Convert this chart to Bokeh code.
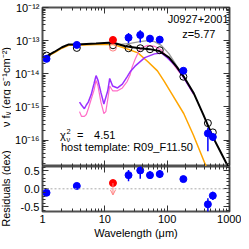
from math import pi
from bokeh.plotting import figure
from bokeh.models import (Range1d, LogAxis, LinearAxis, FixedTicker, CustomJSTickFormatter,
                          Label, Span, Arrow, OpenHead)
from bokeh.layouts import row, column
from bokeh.embed import file_html
from bokeh.resources import INLINE

FONT = "Liberation Sans"

# ---------------- data ----------------
# detected photometry (wavelength in micron, log10 of nu*F_nu in erg/s/cm2)
phot_wl = [1.16, 3.55, 24.0, 37.0, 53.0, 76.0, 182.0, 450.0, 540.0]
phot_logf = [-13.55, -13.13, -12.91, -12.83, -12.94, -12.97, -13.91, -15.80, -15.91]
phot_err_up = [0.0, 0.0, 0.14, 0.14, 0.11, 0.11, 0.0, 0.17, 0.11]
phot_err_dn = [0.0, 0.0, 0.17, 0.23, 0.11, 0.11, 0.0, 0.54, 0.12]
phot_resid = [-0.11, 0.08, 0.38, 0.51, 0.38, 0.41, 0.27, -0.43, -0.19]
model_logf = [-13.45, -13.22, -13.23, -13.23, -13.26, -13.29, -14.09, -15.49, -15.77]

# upper limit point
lim_wl = [13.5]
lim_logf = [-12.98]
lim_model_logf = [-13.14]
lim_host_logf = [-13.21]
lim_resid = [0.16]
lim_arrow_len = 0.33

# total model (black)
total_wl = [1.0, 1.197, 1.540, 2.054, 2.642, 3.523, 7.233, 13.34, 21.29, 36.52, 52.33,
            74.99, 107.5, 143.3, 184.3, 264.2, 378.5, 542.5, 723.4, 1000.0]
total_logf = [-13.514, -13.457, -13.343, -13.200, -13.114, -13.114, -13.086, -13.057,
              -13.171, -13.229, -13.257, -13.314, -13.514, -13.800, -14.086, -14.571,
              -15.229, -15.914, -16.371, -16.886]

# alternative total (grey)
grey_wl = [10.37, 17.78, 25.48, 36.52, 48.70, 62.66, 80.58, 107.5, 143.3, 184.3]
grey_logf = [-13.086, -13.114, -13.086, -13.029, -13.000, -13.029, -13.143, -13.400,
             -13.771, -14.086]

# AGN component (orange)
agn_wl = [1.0, 1.540, 2.054, 2.642, 3.523, 7.233, 13.34, 21.29, 33.98, 48.70, 69.8,
          89.8, 115.5, 184.3, 264.2, 421.7]
agn_logf = [-13.543, -13.371, -13.229, -13.143, -13.143, -13.114, -13.114, -13.229,
            -13.371, -13.629, -13.914, -14.229, -14.571, -15.200, -15.857, -16.800]

# host template (pink)
host_wl = [3.925, 4.217, 4.698, 5.048, 5.425, 6.043, 6.732, 7.233, 7.773, 8.660, 9.647,
           10.37, 11.14, 11.97, 13.34, 15.97, 19.11, 22.88, 25.48, 27.38, 30.50, 35.24,
           40.68, 48.70, 62.66, 80.58, 100.0, 128.7, 159.6, 184.3, 264.2]
host_logf = [-15.143, -15.286, -15.286, -15.229, -15.057, -14.771, -14.486, -14.200,
             -14.371, -14.857, -15.200, -15.143, -14.771, -14.371, -14.514, -14.514,
             -14.429, -14.229, -14.029, -13.800, -13.571, -13.314, -13.200, -13.143,
             -13.171, -13.286, -13.486, -13.743, -13.971, -14.114, -14.620]

# second host template (purple)
purp_wl = [3.925, 4.217, 4.698, 5.048, 5.425, 6.043, 6.732, 7.233, 7.773, 8.660, 9.647,
           10.37, 11.14, 11.97, 13.34, 15.97, 19.11, 22.88, 25.48, 30.50, 43.72, 62.66,
           80.58, 100.0, 138.2, 171.5, 264.2]
purp_logf = [-14.857, -14.943, -15.057, -14.943, -14.857, -14.629, -14.286, -14.057,
             -14.200, -14.571, -14.914, -14.714, -14.514, -14.143, -14.371, -14.429,
             -14.314, -14.086, -13.943, -13.771, -13.514, -13.400, -13.371, -13.514,
             -13.771, -14.029, -14.600]

x_major = [1, 10, 100, 1000]
y_major_exp = [-16, -15, -14, -13, -12]
res_major = [-0.5, 0.0, 0.5]
res_minor = [-0.6, -0.4, -0.3, -0.2, -0.1, 0.1, 0.2, 0.3, 0.4, 0.6]

name_text = "J0927+2001"
z_text = "z=5.77"
chi_value = "4.51"
host_text = "host template: R09_F11.50"

# ---------------- helpers ----------------
def tolin(vals):
    return [10.0 ** v for v in vals]

def x_ticker():
    minors = [k * 10.0 ** e for e in range(0, 3) for k in range(2, 10)]
    return FixedTicker(ticks=x_major, minor_ticks=minors)

def y_ticker():
    majors = [10.0 ** e for e in y_major_exp]
    minors = [k * 10.0 ** e for e in range(-17, -12) for k in range(2, 10)]
    return FixedTicker(ticks=majors, minor_ticks=minors)

def blank():
    return CustomJSTickFormatter(code="return '';")

SUP = CustomJSTickFormatter(code="""
const e = Math.round(Math.log10(tick));
const m = {"-":"\u207b","0":"\u2070","1":"\u00b9","2":"\u00b2","3":"\u00b3","4":"\u2074",
           "5":"\u2075","6":"\u2076","7":"\u2077","8":"\u2078","9":"\u2079"};
return "10" + String(e).split("").map(c => m[c]).join("");
""")

def style(ax, labels=True):
    ax.major_tick_in = 6
    ax.major_tick_out = 0
    ax.minor_tick_in = 3
    ax.minor_tick_out = 0
    ax.axis_line_color = None
    ax.major_tick_line_color = "#333333"
    ax.minor_tick_line_color = "#333333"
    ax.major_label_text_font = FONT
    ax.major_label_text_color = "black"
    ax.major_label_text_line_height = 1.0
    if labels:
        ax.major_label_text_font_size = "11px"
        ax.major_label_standoff = 3
    else:
        ax.major_label_text_font_size = "0px"
        ax.major_label_standoff = 0

def base_fig(**kw):
    p = figure(output_backend="svg", toolbar_location=None,
               x_axis_location=None, y_axis_location=None,
               outline_line_color="#505050", outline_line_width=2,
               background_fill_color="white", border_fill_color="white", **kw)
    p.xgrid.grid_line_color = None
    p.ygrid.grid_line_color = None
    return p

BLUE = "#0000ff"
RED = "#ff0000"
LIGHTRED = "#ff8080"
MS = 7

# ---------------- top panel ----------------
top = base_fig(width=230, height=166, x_axis_type="log", y_axis_type="log",
               x_range=Range1d(1, 1000), y_range=Range1d(10 ** -16.8, 1e-12),
               min_border_left=29, min_border_right=12, min_border_top=7,
               min_border_bottom=0)

ax = LogAxis(ticker=y_ticker(), formatter=SUP); style(ax); top.add_layout(ax, "left")
ax = LogAxis(ticker=y_ticker(), formatter=blank()); style(ax, False); top.add_layout(ax, "right")
ax = LogAxis(ticker=x_ticker(), formatter=blank()); style(ax, False); top.add_layout(ax, "below")
ax = LogAxis(ticker=x_ticker(), formatter=blank()); style(ax, False); top.add_layout(ax, "above")

top.line(agn_wl, tolin(agn_logf), line_color="#ffa500", line_width=1.5)
top.line(host_wl, tolin(host_logf), line_color="#ff6ec7", line_width=1.2)
top.line(purp_wl, tolin(purp_logf), line_color="#9b30ff", line_width=1.5)
top.line(grey_wl, tolin(grey_logf), line_color="#9a9a9a", line_width=1.3)
top.line(total_wl, tolin(total_logf), line_color="black", line_width=2)

# error bars
top.segment(x0=phot_wl, x1=phot_wl,
            y0=[10 ** (f - e) for f, e in zip(phot_logf, phot_err_dn)],
            y1=[10 ** (f + e) for f, e in zip(phot_logf, phot_err_up)],
            line_color=BLUE, line_width=1.5)
# model photometry
top.scatter(phot_wl, tolin(model_logf), marker="circle", size=MS, fill_color=None,
            line_color="black", line_width=1)
top.scatter(lim_wl, tolin(lim_model_logf), marker="circle", size=MS, fill_color=None,
            line_color="black", line_width=1)
top.scatter(lim_wl, tolin(lim_host_logf), marker="circle", size=MS, fill_color=None,
            line_color=LIGHTRED, line_width=1)
# observed
top.scatter(phot_wl, tolin(phot_logf), marker="circle", size=MS, fill_color=BLUE,
            line_color=BLUE)
top.scatter(lim_wl, tolin(lim_logf), marker="circle", size=MS, fill_color=RED,
            line_color=RED)

def lab(p, x, y, text, size="11px", align="left", xo=0, yo=0):
    p.add_layout(Label(x=x, y=y, text=text, text_font=FONT, text_font_size=size,
                       text_align=align, text_baseline="middle", text_color="black",
                       x_offset=xo, y_offset=yo))

lab(top, 965, 10 ** -12.34, name_text, align="right")
lab(top, 322, 10 ** -12.80, z_text, align="center")
chi_x, chi_y = 1.91, 10 ** -15.857
lab(top, chi_x, chi_y, "\u03c7")
lab(top, chi_x, chi_y, "2", size="7.5px", xo=6.5, yo=4)
lab(top, chi_x, chi_y, "\u03bd", size="7.5px", xo=6.5, yo=-4)
lab(top, chi_x, chi_y, "=", xo=17)
lab(top, chi_x, chi_y, chi_value, xo=34)
lab(top, 1.98, 10 ** -16.2, host_text)

# ---------------- bottom panel ----------------
bot = base_fig(width=230, height=75, x_axis_type="log",
               x_range=top.x_range, y_range=Range1d(-0.63, 0.62),
               min_border_left=29, min_border_right=12, min_border_top=0,
               min_border_bottom=28)

ax = LinearAxis(ticker=FixedTicker(ticks=res_major, minor_ticks=res_minor),
                formatter=CustomJSTickFormatter(code="return tick.toFixed(1);"))
style(ax); bot.add_layout(ax, "left")
ax = LinearAxis(ticker=FixedTicker(ticks=res_major, minor_ticks=res_minor), formatter=blank())
style(ax, False); bot.add_layout(ax, "right")
ax = LogAxis(ticker=x_ticker(), formatter=CustomJSTickFormatter(code="return tick.toFixed(0);"),
             axis_label="Wavelength (\u03bcm)")
style(ax)
ax.major_label_standoff = 3
ax.axis_label_standoff = 1
ax.axis_label_text_font = FONT
ax.axis_label_text_font_size = "11px"
ax.axis_label_text_font_style = "normal"
ax.axis_label_text_color = "black"
ax.axis_label_text_line_height = 1.0
bot.add_layout(ax, "below")
ax = LogAxis(ticker=x_ticker(), formatter=blank()); style(ax, False); bot.add_layout(ax, "above")

bot.add_layout(Span(location=0, dimension="width", line_color="#aaaaaa",
                    line_dash="2 2", line_width=1))

bot.segment(x0=phot_wl, x1=phot_wl,
            y0=[r - e for r, e in zip(phot_resid, phot_err_dn)],
            y1=[r + e for r, e in zip(phot_resid, phot_err_up)],
            line_color=BLUE, line_width=1.5)
bot.add_layout(Arrow(x_start=lim_wl[0], y_start=lim_resid[0], x_end=lim_wl[0],
                     y_end=lim_resid[0] - lim_arrow_len, line_color=LIGHTRED, line_width=1,
                     end=OpenHead(size=5, line_color=LIGHTRED, line_width=1)))
bot.scatter(phot_wl, phot_resid, marker="circle", size=MS, fill_color=BLUE, line_color=BLUE)
bot.scatter(lim_wl, lim_resid, marker="circle", size=MS, fill_color=RED, line_color=RED)

# ---------------- y title strip ----------------
ystrip = figure(width=11, height=241, x_range=Range1d(0, 1), y_range=Range1d(0, 1),
                output_backend="svg", toolbar_location=None, min_border=0,
                x_axis_location=None, y_axis_location=None, outline_line_color=None,
                background_fill_color="white", border_fill_color="white")
ystrip.xgrid.grid_line_color = None
ystrip.ygrid.grid_line_color = None
ystrip.add_layout(Label(x=5.5, y=154.5, x_units="screen", y_units="screen", angle=pi / 2,
                        text="\u03bd f\u1d65 (erg s\u207b\u00b9cm\u207b\u00b2)",
                        text_font=FONT, text_font_size="11px", text_align="center",
                        text_baseline="middle", text_color="black"))
ystrip.add_layout(Label(x=5.5, y=53, x_units="screen", y_units="screen", angle=pi / 2,
                        text="Residuals (dex)", text_font=FONT, text_font_size="11px",
                        text_align="center", text_baseline="middle", text_color="black"))

layout = row(ystrip, column(top, bot))
open("out.html", "w").write(file_html(layout, INLINE))
